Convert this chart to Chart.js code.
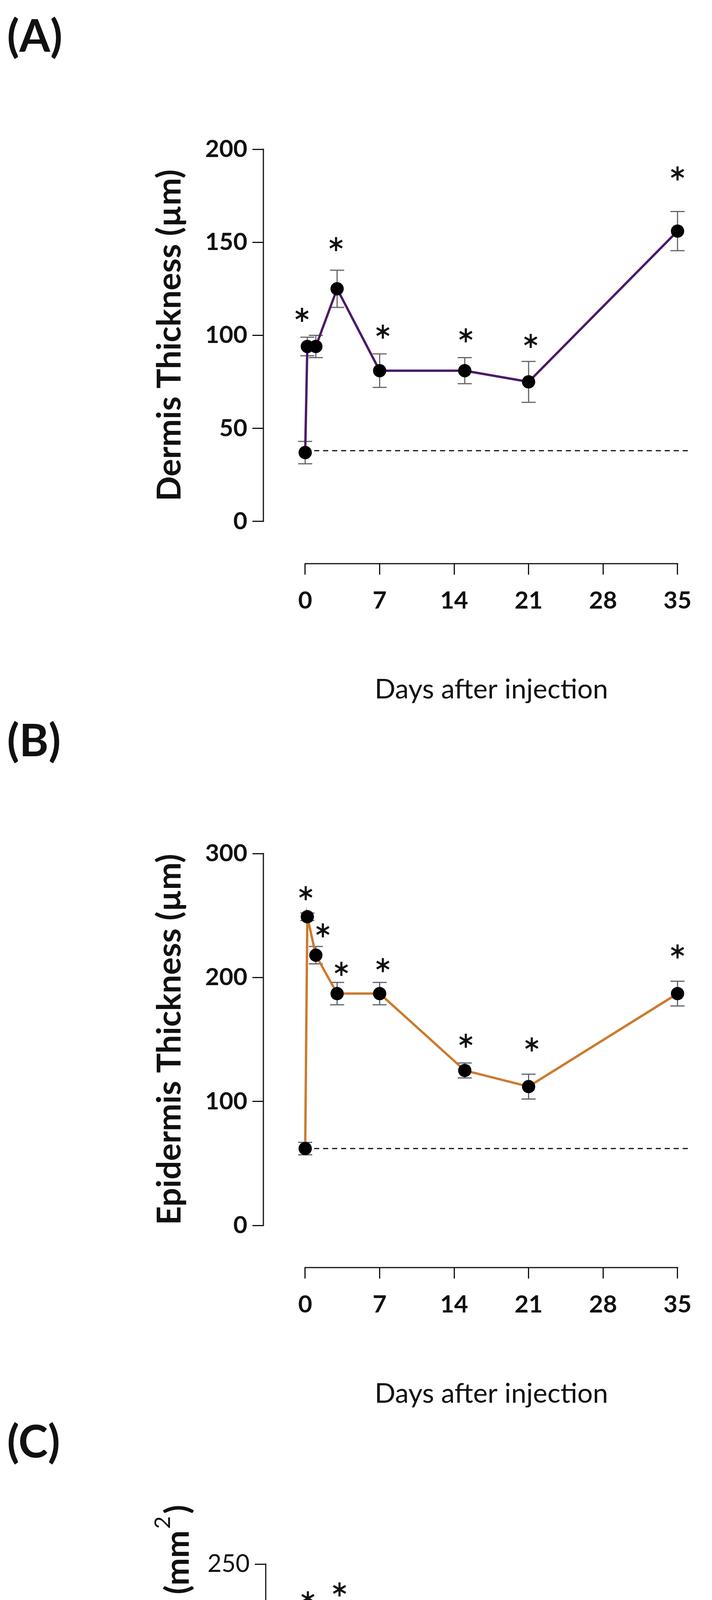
<!doctype html>
<html lang="en">
<head>
<meta charset="utf-8"/>
<title>Dermis, epidermis and leukocytes after injection</title>
<script src="https://cdn.jsdelivr.net/npm/chart.js@4"></script>
<style>
*{box-sizing:border-box} html,body{margin:0;padding:0;background:#fff}
body{width:1822px;height:5499px;position:relative;overflow:hidden;font-family:Lato,'Open Sans',sans-serif}
.lbl{position:absolute;left:18px;font:700 114px Lato,sans-serif;color:#111;line-height:1}
canvas{position:absolute;left:0}
</style>
</head>
<body>
<div class="lbl" style="top:32px">(A)</div>
<div class="lbl" style="top:1835px">(B)</div>
<div class="lbl" style="top:3630px">(C)</div>
<canvas id="cA" width="1822" height="1800" style="top:0"></canvas>
<canvas id="cB" width="1822" height="1800" style="top:1803px"></canvas>
<canvas id="cC" width="1822" height="1899" style="top:3600px"></canvas>

<script>
// sampling days (0 = naive baseline, 0.2 = first hours)
const days = [0, 0.2, 1, 3, 7, 15, 21, 35];
const xTicks = [0, 7, 14, 21, 28, 35];

// (A) dermis
const dermisMean = [37, 94, 94, 125, 81, 81, 75, 156];
const dermisSem  = [6, 5, 6, 10, 9, 7, 11, 10.5];
const dermisBase = 38;
const dermisTicks = [0, 50, 100, 150, 200];
const dermisStarDays = [-0.3, 2.9, 7.3, 15.1, 21.2, 35];
const dermisStarVals = [111, 149, 102, 100, 97, 187];

// (B) epidermis
const epiMean = [62, 249, 218, 187, 187, 125, 112, 187];
const epiSem  = [5, 3, 7, 9, 9, 6, 10, 10];
const epiBase = 62;
const epiTicks = [0, 100, 200, 300];
const epiStarDays = [0.05, 1.66, 3.4, 7.3, 15.1, 21.3, 35];
const epiStarVals = [268, 238, 207, 210, 149, 146, 221];

// (C) leukocytes
const leukoMean = [13, 211, 145, 216, 163, 76, 74.5, 69];
const leukoSem  = [2, 2, 6, 5, 3, 4, 5, 4];
const leukoBase = 13;
const leukoTicks = [0, 50, 100, 150, 200, 250];
const leukoStarDays = [0.07, 1.3, 3.05, 8.1, 15.2, 20.9, 35.1];
const leukoStarVals = [227, 127, 233, 171, 89, 87, 85];

const INK = '#111';

const errorBars = {
  id: 'errorBars',
  beforeDatasetsDraw(chart, args, o){
    const {ctx, scales:{x, y}} = chart;
    ctx.save();
    ctx.strokeStyle = o.color; ctx.lineWidth = o.width;
    o.days.forEach((d, i) => {
      const px = x.getPixelForValue(d);
      const t = y.getPixelForValue(o.mean[i] + o.sem[i]);
      const b = y.getPixelForValue(o.mean[i] - o.sem[i]);
      ctx.beginPath();
      ctx.moveTo(px, t); ctx.lineTo(px, b);
      ctx.moveTo(px - o.cap, t); ctx.lineTo(px + o.cap, t);
      ctx.moveTo(px - o.cap, b); ctx.lineTo(px + o.cap, b);
      ctx.stroke();
    });
    ctx.restore();
  }
};

// offset axis lines (Prism style) + asterisks + titles
const decor = {
  id: 'decor',
  afterDraw(chart, args, o){
    const {ctx, chartArea, scales:{x, y}} = chart;
    ctx.save();
    ctx.strokeStyle = INK; ctx.lineWidth = 3; ctx.lineCap = 'square';
    ctx.beginPath();
    ctx.moveTo(chartArea.left, y.getPixelForValue(o.yTicks[0]));
    ctx.lineTo(chartArea.left, y.getPixelForValue(o.yTicks[o.yTicks.length-1]));
    ctx.moveTo(x.getPixelForValue(xTicks[0]), chartArea.bottom);
    ctx.lineTo(x.getPixelForValue(xTicks[xTicks.length-1]), chartArea.bottom);
    ctx.stroke();

    // asterisks
    ctx.lineWidth = 5.5; ctx.lineCap = 'butt';
    o.starDays.forEach((d, i) => {
      const cx = x.getPixelForValue(d), cy = y.getPixelForValue(o.starVals[i]);
      const r = 18;
      ctx.beginPath();
      [90, 30, 150].forEach(a => {
        const t = a * Math.PI / 180;
        ctx.moveTo(cx - r*Math.cos(t), cy - r*Math.sin(t));
        ctx.lineTo(cx + r*Math.cos(t), cy + r*Math.sin(t));
      });
      ctx.stroke();
    });

    // x title
    ctx.fillStyle = INK;
    ctx.font = '400 70px Lato';
    ctx.textAlign = 'center'; ctx.textBaseline = 'alphabetic';
    const xc = (x.getPixelForValue(xTicks[0]) + x.getPixelForValue(xTicks[xTicks.length-1])) / 2;
    ctx.fillText('Days after injection', xc, o.xTitleY, 620);

    // y title (rotated)
    const yc = (y.getPixelForValue(o.yTicks[0]) + y.getPixelForValue(o.yTicks[o.yTicks.length-1])) / 2;
    ctx.translate(o.yTitleX, yc);
    ctx.rotate(-Math.PI/2);
    const bold = '700 ' + o.yTitleSize + 'px Lato';
    if (o.ySup){
      const sup = '400 56px Lato';
      ctx.font = bold; const w1 = ctx.measureText(o.yTitle).width; const w3 = ctx.measureText(')').width;
      ctx.font = sup; const w2 = ctx.measureText(o.ySup).width + 10;
      let sx = -(w1 + w2 + w3) / 2;
      ctx.textAlign = 'left';
      ctx.font = bold; ctx.fillText(o.yTitle, sx, 0);
      ctx.font = sup; ctx.fillText(o.ySup, sx + w1 + 4, -48);
      ctx.font = bold; ctx.fillText(')', sx + w1 + w2, 0);
    } else {
      ctx.font = bold; ctx.textAlign = 'center';
      ctx.fillText(o.yTitle, 0, 0);
    }
    ctx.restore();
  }
};

function makeChart(id, p){
  const tickFont = {family: 'Lato', size: p.tickSize, weight: p.tickWeight};
  return new Chart(document.getElementById(id), {
    type: 'line',
    data: {
      datasets: [
        {
          data: days.map((d, i) => ({x: d, y: p.mean[i]})),
          borderColor: p.lineColor, borderWidth: p.lineWidth,
          pointRadius: p.pointRadius, pointBackgroundColor: p.pointColor,
          pointBorderColor: p.pointColor, pointBorderWidth: 0,
          tension: 0, order: 1
        },
        {
          data: [{x: 0, y: p.base}, {x: 36, y: p.base}],
          borderColor: INK, borderWidth: 3, borderDash: [13, 10],
          pointRadius: 0, order: 2
        }
      ]
    },
    options: {
      responsive: false, animation: false, devicePixelRatio: 1, events: [],
      layout: {padding: {left: 0, top: p.areaTop, right: 1822 - p.areaRight, bottom: 0}},
      plugins: {
        legend: {display: false}, tooltip: {enabled: false},
        errorBars: {days: days, mean: p.mean, sem: p.sem, color: p.errColor, width: 3, cap: 18},
        decor: {yTicks: p.yTicks, starDays: p.starDays, starVals: p.starVals,
                xTitleY: p.xTitleY, yTitleX: p.yTitleX, yTitle: p.yTitle, ySup: p.ySup, yTitleSize: 84}
      },
      scales: {
        x: {
          type: 'linear', min: p.xMin, max: 36,
          afterBuildTicks: ax => { ax.ticks = xTicks.map(v => ({value: v})); },
          afterFit: ax => { ax.height = p.canvasH - p.areaBottom; },
          grid: {display: true, drawOnChartArea: false, drawTicks: true, tickLength: 28, tickWidth: 3, tickColor: INK},
          border: {display: false},
          ticks: {font: tickFont, color: INK, padding: 30, autoSkip: false, maxRotation: 0}
        },
        y: {
          type: 'linear', min: p.yMin, max: p.yTicks[p.yTicks.length-1],
          afterBuildTicks: ax => { ax.ticks = p.yTicks.map(v => ({value: v})); },
          afterFit: ax => { ax.width = p.areaLeft; },
          grid: {display: true, drawOnChartArea: false, drawTicks: true, tickLength: 28, tickWidth: 3, tickColor: INK},
          border: {display: false},
          ticks: {font: tickFont, color: INK, padding: 13}
        }
      }
    },
    plugins: [errorBars, decor]
  });
}

function build(){
  makeChart('cA', {
    mean: dermisMean, sem: dermisSem, base: dermisBase, yTicks: dermisTicks,
    starDays: dermisStarDays, starVals: dermisStarVals,
    yMin: -22.7, xMin: -3.93, areaLeft: 674, areaRight: 1761, areaTop: 382, areaBottom: 1443, canvasH: 1800,
    lineColor: '#4b1a68', lineWidth: 6, pointColor: '#000', pointRadius: 17, errColor: '#666',
    tickSize: 62, tickWeight: 'bold', xTitleY: 1788, yTitleX: 462, yTitle: 'Dermis Thickness (µm)'
  });
  makeChart('cB', {
    mean: epiMean, sem: epiSem, base: epiBase, yTicks: epiTicks,
    starDays: epiStarDays, starVals: epiStarVals,
    yMin: -34, xMin: -3.93, areaLeft: 674, areaRight: 1761, areaTop: 382, areaBottom: 1442, canvasH: 1800,
    lineColor: '#cc7a2c', lineWidth: 6, pointColor: '#000', pointRadius: 17, errColor: '#5a6473',
    tickSize: 62, tickWeight: 'bold', xTitleY: 1788, yTitleX: 462, yTitle: 'Epidermis Thickness (µm)'
  });
  makeChart('cC', {
    mean: leukoMean, sem: leukoSem, base: leukoBase, yTicks: leukoTicks,
    starDays: leukoStarDays, starVals: leukoStarVals,
    yMin: -28, xMin: -3.9, areaLeft: 680, areaRight: 1764, areaTop: 404, areaBottom: 1465, canvasH: 1899,
    lineColor: '#2a482a', lineWidth: 3, pointColor: '#0b610b', pointRadius: 16.5, errColor: '#111',
    tickSize: 62, tickWeight: 'normal', xTitleY: 1863, yTitleX: 483,
    yTitle: 'Total leukocytes in footpad (mm', ySup: '2'
  });
}

Promise.all([document.fonts.load('700 60px Lato'), document.fonts.load('400 60px Lato')])
  .then(build, build);
</script>
</body>
</html>
